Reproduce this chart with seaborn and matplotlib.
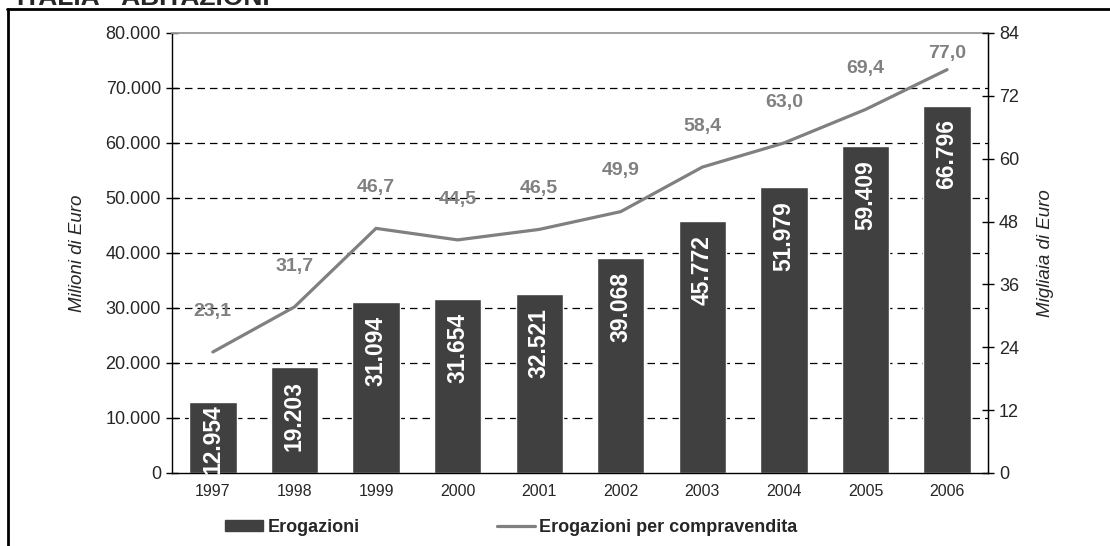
import numpy as np
import pandas as pd
import matplotlib
matplotlib.use("Agg")
import matplotlib.pyplot as plt
from matplotlib.lines import Line2D
from matplotlib.patches import Patch
import seaborn as sns

# dati
years = ["1997", "1998", "1999", "2000", "2001", "2002", "2003", "2004", "2005", "2006"]
erogazioni = [12954, 19203, 31094, 31654, 32521, 39068, 45772, 51979, 59409, 66796]
per_compravendita = [23.1, 31.7, 46.7, 44.5, 46.5, 49.9, 58.4, 63.0, 69.4, 77.0]
left_ticks = [0, 10000, 20000, 30000, 40000, 50000, 60000, 70000, 80000]
right_ticks = [0, 12, 24, 36, 48, 60, 72, 84]

df = pd.DataFrame({"anno": years, "erog": erogazioni, "compr": per_compravendita})

sns.set_style("white")
plt.rcParams['font.family'] = ['Liberation Sans', 'DejaVu Sans']

BAR = '#404040'
LINE = '#808080'

fig = plt.figure(figsize=(11.1, 5.46), dpi=100)
ax = fig.add_axes([0.155, 0.1337, 0.735, 0.8059])

sns.barplot(data=df, x="anno", y="erog", color=BAR, width=0.58, saturation=1, ax=ax, zorder=2)
ax.set_xlim(-0.5, len(years) - 0.5)
ax.set_ylim(0, 80000)
ax.set_yticks(left_ticks)
ax.set_yticklabels([f"{t:,}".replace(",", ".") for t in left_ticks], fontsize=13)
ax.set_xticks(range(len(years)))
ax.set_xticklabels(years, fontsize=11.5)
ax.set_xticks(np.arange(-0.5, len(years)), minor=True)
ax.tick_params(axis='x', which='major', length=0, pad=8)
ax.tick_params(axis='x', which='minor', length=5, direction='out', width=1, color='black')
ax.tick_params(axis='y', length=8, direction='inout', width=1, color='black', pad=4)
ax.set_xlabel("")
ax.set_ylabel("Milioni di Euro", fontsize=13.5, style='italic', labelpad=14)

for t in left_ticks[1:-1]:
    ax.axhline(t, color='black', lw=0.9, linestyle=(0, (6, 4)), zorder=1)

for s in ['left', 'bottom', 'right']:
    ax.spines[s].set_color('black')
    ax.spines[s].set_linewidth(1)
ax.spines['top'].set_color('#999999')
ax.spines['top'].set_linewidth(1.3)

# etichette barre
for i, v in enumerate(erogazioni):
    ax.annotate(f"{v:,}".replace(",", "."), xy=(i, max(v, 15000)), xytext=(0, -10),
                textcoords='offset points', rotation=90, ha='center', va='top',
                color='white', fontsize=16.5, fontweight='bold', zorder=3)

ax2 = ax.twinx()
sns.lineplot(x=np.arange(len(years)), y=per_compravendita, color=LINE, lw=2.3, ax=ax2, zorder=4)
ax2.set_ylim(0, 84)
ax2.set_yticks(right_ticks)
ax2.set_yticklabels([str(t) for t in right_ticks], fontsize=13)
ax2.tick_params(axis='y', length=8, direction='inout', width=1, color='black', pad=4)
ax2.set_ylabel("Migliaia di Euro", fontsize=13.5, style='italic', labelpad=13)
for s in ax2.spines.values():
    s.set_visible(False)
ax2.spines['right'].set_visible(True)
ax2.spines['right'].set_color('black')

for i, v in enumerate(per_compravendita):
    ax2.text(i, min(v + 7.8, 80.0), f"{v:.1f}".replace(".", ","), ha='center', va='center',
             color=LINE, fontsize=14, fontweight='bold')

handles = [Patch(facecolor=BAR, edgecolor=BAR), Line2D([0], [0], color=LINE, lw=2.3)]
fig.legend(handles, ["Erogazioni", "Erogazioni per compravendita"], loc='center left',
           bbox_to_anchor=(225 / 1110, 1 - 527 / 546), ncol=2, frameon=False,
           borderaxespad=0, borderpad=0,
           prop={'weight': 'bold', 'size': 13}, handlelength=2.1, handleheight=0.55,
           columnspacing=7.6, handletextpad=0.25)

# titolo e cornice
fig.text(0.015, 1 - 5 / 546, "ITALIA - ABITAZIONI", fontsize=19, fontweight='bold', va='baseline')
fig.add_artist(Line2D([7 / 1110, 1], [1 - 9 / 546, 1 - 9 / 546], color='black', lw=2))
fig.add_artist(Line2D([8 / 1110, 8 / 1110], [0, 1 - 9 / 546], color='black', lw=2))

fig.savefig("out.png", dpi=100)
